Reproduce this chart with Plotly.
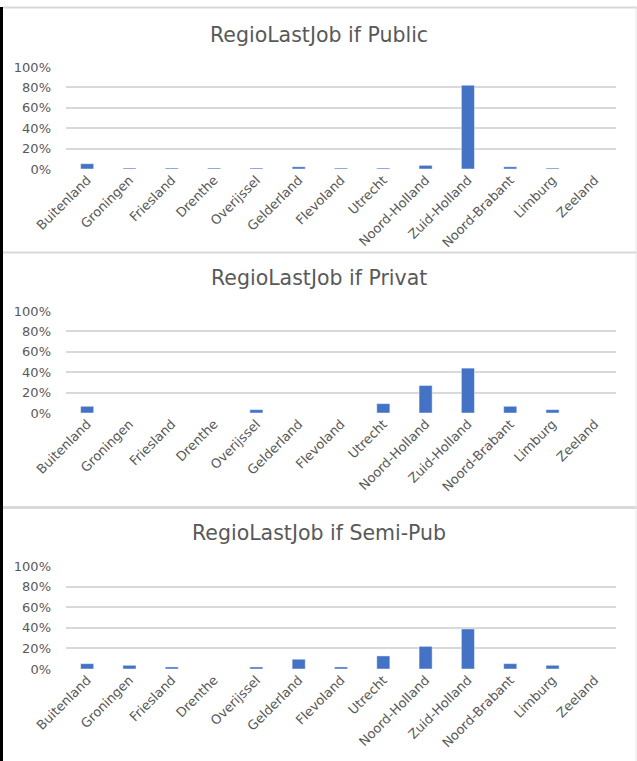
import plotly.graph_objects as go

W, H = 637, 761

BAR = "#4472C4"
GRID = "#D9D9D9"
TEXT = "#595959"
BORDER = "#D9D9D9"
FONT = "DejaVu Sans, Verdana, sans-serif"

REGIONS = [
    "Buitenland", "Groningen", "Friesland", "Drenthe", "Overijssel",
    "Gelderland", "Flevoland", "Utrecht", "Noord-Holland", "Zuid-Holland",
    "Noord-Brabant", "Limburg", "Zeeland",
]

# shares per region (fraction of 1)
public = [0.052, 0.01, 0.01, 0.01, 0.01, 0.022, 0.01, 0.01, 0.036, 0.822, 0.022, 0.01, 0.0]
privat = [0.066, 0.0, 0.0, 0.0, 0.033, 0.0, 0.0, 0.092, 0.27, 0.44, 0.066, 0.033, 0.0]
semi_pub = [0.052, 0.036, 0.02, 0.0, 0.02, 0.095, 0.02, 0.127, 0.22, 0.389, 0.052, 0.036, 0.0]

TITLES = ["RegioLastJob if Public", "RegioLastJob if Privat", "RegioLastJob if Semi-Pub"]

# pixel layout of each panel: (title y, 100% line y, 0% line y)
PANELS = [(35, 67, 169), (278, 311, 413), (533, 566, 669)]
X0, X1 = 66, 616


def px(x):
    return x / W


def py(y):
    return 1 - y / H


fig = go.Figure()
layout = dict(
    width=W, height=H,
    margin=dict(l=0, r=0, t=0, b=0, pad=0),
    paper_bgcolor="white",
    plot_bgcolor="white",
    font=dict(family=FONT, color=TEXT, size=12),
    showlegend=False,
    bargap=0.69,
    annotations=[],
    shapes=[],
)

for i, (series, title, (ty, top, base)) in enumerate(zip([public, privat, semi_pub], TITLES, PANELS)):
    n = "" if i == 0 else str(i + 1)
    fig.add_trace(go.Bar(
        x=REGIONS, y=series,
        xaxis="x" + n, yaxis="y" + n,
        marker=dict(color=BAR, line=dict(color="rgba(255,255,255,0.6)", width=0.8)),
        hovertemplate="%{x}: %{y:.0%}<extra></extra>",
    ))
    layout["xaxis" + n] = dict(
        domain=[px(X0), px(X1)],
        anchor="y" + n,
        automargin=False,
        tickangle=-45,
        tickfont=dict(size=13, color=TEXT, family=FONT),
        showgrid=False, zeroline=False,
        showline=False, ticks="",
        fixedrange=True,
    )
    layout["yaxis" + n] = dict(
        domain=[py(base), py(top)],
        anchor="x" + n,
        automargin=False,
        range=[0, 1.0],
        tickvals=[0, 0.2, 0.4, 0.6, 0.8, 1.0],
        tickformat=".0%",
        tickfont=dict(size=13, color=TEXT, family=FONT),
        gridcolor=GRID, gridwidth=1.5,
        zeroline=False, showline=False, ticks="",
        ticklabelstandoff=14,
        fixedrange=True,
    )
    layout["annotations"].append(dict(
        text=title, xref="paper", yref="paper",
        x=0.5, y=py(ty), xanchor="center", yanchor="middle",
        showarrow=False, font=dict(size=20.5, color=TEXT, family=FONT),
    ))

# panel borders like the pasted screenshots
for y, w in [(7.5, 2), (252.5, 2), (507.5, 3)]:
    layout["shapes"].append(dict(
        type="line", xref="paper", yref="paper",
        x0=px(3), x1=1, y0=py(y), y1=py(y),
        line=dict(color=BORDER, width=w),
    ))
layout["shapes"].append(dict(
    type="line", xref="paper", yref="paper",
    x0=px(636), x1=px(636), y0=py(7), y1=0,
    line=dict(color="#E6E6E6", width=1),
))
layout["shapes"].append(dict(
    type="rect", xref="paper", yref="paper",
    x0=0, x1=px(3), y0=py(7), y1=0,
    fillcolor="black", line=dict(width=0),
))

fig.update_layout(**layout)
fig.write_html(
    "out.html",
    config={"displayModeBar": False},
    post_script="document.body.style.margin='0';document.documentElement.style.overflow='hidden';",
)
